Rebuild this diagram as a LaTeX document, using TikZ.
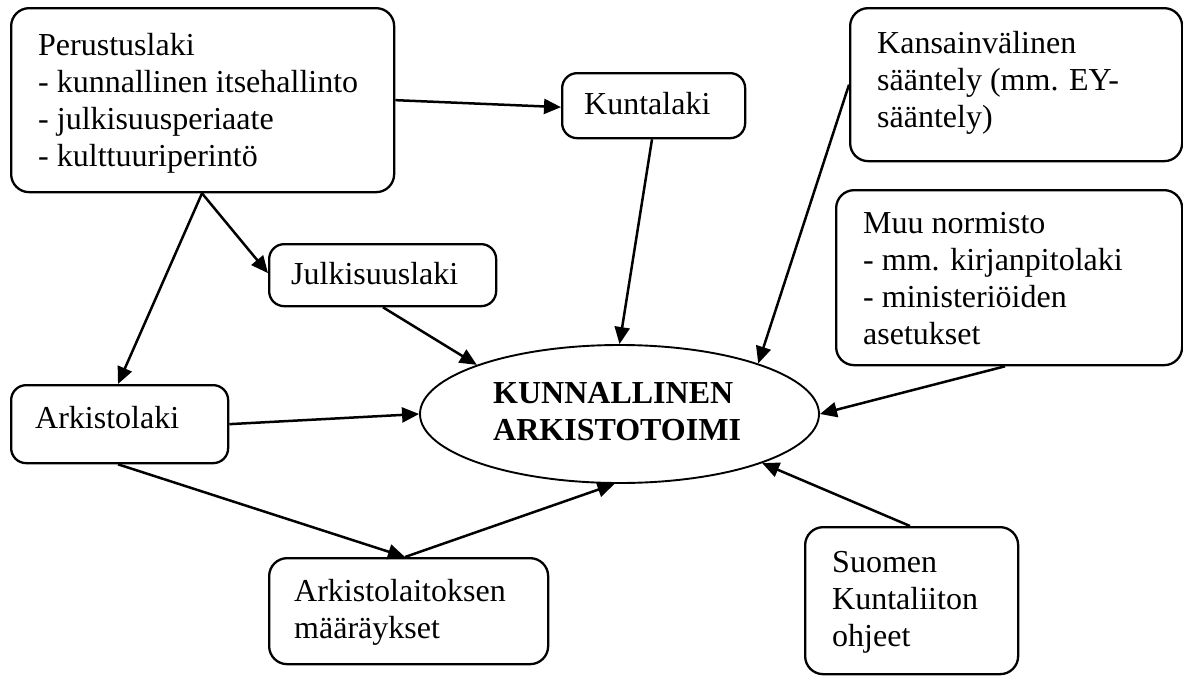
\documentclass[tikz,border=0pt]{standalone}
\usepackage{fontspec}
\setmainfont{Liberation Serif}
\usetikzlibrary{arrows.meta,calc,shapes.geometric}
\begin{document}
\begin{tikzpicture}[x=1pt,y=-1pt,
  box/.style={draw,line width=2.3pt,rounded corners=18pt,inner sep=0pt,anchor=north west},
  txt/.style={inner sep=0pt,anchor=north west,align=left,font=\fontsize{32}{37}\selectfont},
  conn/.style={line width=2.5pt,-{Triangle[length=17pt,width=15pt]}}]
\useasboundingbox (0,0) rectangle (1183,675);
% boxes
\node[box,minimum width=383pt,minimum height=184pt] (P) at (10,7) {};
\node[box,minimum width=183pt,minimum height=65pt,rounded corners=15pt] (K) at (561,72) {};
\node[box,minimum width=227pt,minimum height=62pt,rounded corners=15pt] (J) at (268,243) {};
\node[box,minimum width=332pt,minimum height=153pt] (KV) at (849,7) {};
\node[box,minimum width=346pt,minimum height=175pt] (M) at (835,189) {};
\node[box,minimum width=217pt,minimum height=78pt,rounded corners=15pt] (A) at (10,384) {};
\node[box,minimum width=279pt,minimum height=106pt] (AL) at (268,557) {};
\node[box,minimum width=213pt,minimum height=147pt] (S) at (804,526) {};
\node[ellipse,draw,line width=1.9pt,minimum width=399pt,minimum height=138pt,inner sep=0pt] (E) at (619.5,414) {};
% texts
\node[txt] (Pt) at (38,30) {\rule{0pt}{25pt}Perustuslaki\\- kunnallinen itsehallinto\\- julkisuusperiaate\\- kulttuuriperintö};
\node[txt] (Kt) at (584,89) {\rule{0pt}{25pt}Kuntalaki};
\node[txt] (Jt) at (291,259) {\rule{0pt}{25pt}Julkisuuslaki};
\node[txt] (KVt) at (877,28) {\rule{0pt}{25pt}Kansainvälinen\\sääntely (mm. EY-\\sääntely)};
\node[txt] (Mt) at (863,208) {\rule{0pt}{25pt}Muu normisto\\- mm. kirjanpitolaki\\- ministeriöiden\\asetukset};
\node[txt] (At) at (35,403) {\rule{0pt}{25pt}Arkistolaki};
\node[txt] (ALt) at (294,576) {\rule{0pt}{25pt}Arkistolaitoksen\\määräykset};
\node[txt] (St) at (832,547) {\rule{0pt}{25pt}Suomen\\Kuntaliiton\\ohjeet};
\node[txt,font=\fontsize{32}{37}\selectfont\bfseries] (Et) at (493,378) {\rule{0pt}{25pt}KUNNALLINEN\\ARKISTOTOIMI};
% connectors
\draw[conn] (P.east) -- ($(K.west)+(0,1.5)$);
\draw[conn] ($(P.south west)+(192,0)$) -- ($(J.west)+(0,-2)$);
\draw[conn] ($(P.south west)+(192,0)$) -- ($(A.north west)+(108,0)$);
\draw[conn] ($(K.south west)+(91,0)$) -- (E.north);
\draw[conn] ($(J.south west)+(115,0)$) -- (E.161);
\draw[conn] (KV.west) -- (E.20);
\draw[conn] ($(M.south west)+(170,0)$) -- (E.east);
\draw[conn] (A.east) -- (E.west);
\draw[conn] ($(A.south west)+(108,0)$) -- ($(AL.north west)+(137,0)$);
\draw[conn] ($(AL.north west)+(137,0)$) -- ($(E.south)+(-5,0)$);
\draw[conn] ($(S.north west)+(106,0)$) -- (E.-19);
\end{tikzpicture}
\end{document}
